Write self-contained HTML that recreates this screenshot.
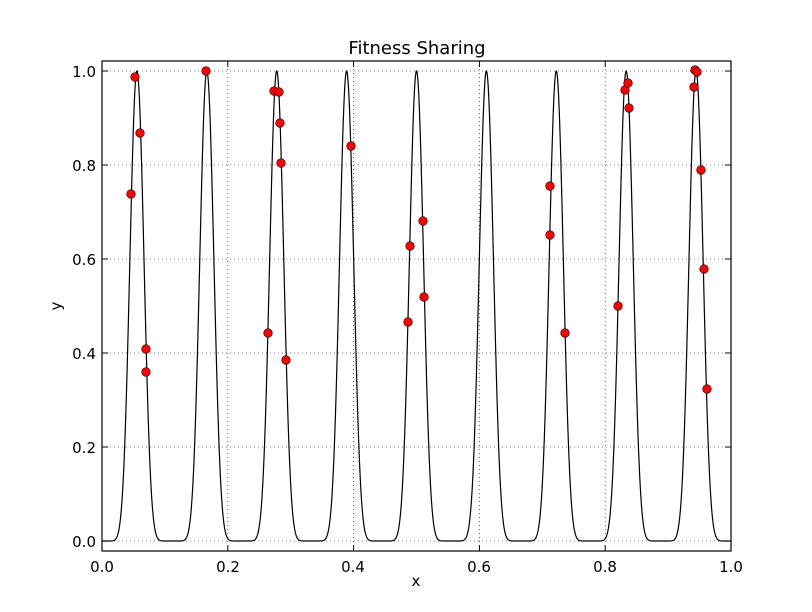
<!DOCTYPE html>
<html><head><meta charset="utf-8"><style>
html,body{margin:0;padding:0;background:#fff;}
svg{display:block;font-family:"DejaVu Sans","Liberation Sans",sans-serif;}
</style></head><body>
<svg id="s" width="812" height="612" viewBox="0 0 812 612" xmlns="http://www.w3.org/2000/svg">
<rect width="812" height="612" fill="#fff"/>
<g id="grid" stroke="#000" stroke-width="0.6" stroke-dasharray="1,3"></g>
<polyline id="curve" fill="none" stroke="#000" stroke-width="1.2"/>
<g id="pts" fill="#ff0000" stroke="#000" stroke-width="0.6"></g>
<rect x="102" y="61" width="629" height="490" fill="none" stroke="#000" stroke-width="1.2"/>
<g id="ticks" stroke="#000" stroke-width="1"></g>
<g font-size="15" fill="#000">
<text x="417" y="54" text-anchor="middle" font-size="18">Fitness Sharing</text>
<text x="416" y="586" text-anchor="middle">x</text>
<text x="61" y="306" text-anchor="middle" transform="rotate(-90 61 306)">y</text>
<g text-anchor="middle">
<text x="102" y="572">0.0</text><text x="228" y="572">0.2</text><text x="353" y="572">0.4</text><text x="479" y="572">0.6</text><text x="605" y="572">0.8</text><text x="731" y="572">1.0</text>
</g>
<g text-anchor="end">
<text x="96" y="547">0.0</text><text x="96" y="453">0.2</text><text x="96" y="359">0.4</text><text x="96" y="265">0.6</text><text x="96" y="171">0.8</text><text x="96" y="77">1.0</text>
</g>
</g>
</svg>
<script>
var X=function(v){return 102+629*v},Y=function(v){return 541-470*v};
var g=document.getElementById('grid'),t=document.getElementById('ticks'),h='',tk='';
for(var i=0;i<=5;i++){var x=X(i*0.2),y=Y(i*0.2);
if(i>0&&i<5)h+='<line x1="'+x+'" y1="61" x2="'+x+'" y2="551"/>';
h+='<line x1="102" y1="'+y+'" x2="731" y2="'+y+'"/>';
tk+='<line x1="'+x+'" y1="551" x2="'+x+'" y2="545"/><line x1="'+x+'" y1="61" x2="'+x+'" y2="67"/>';
tk+='<line x1="102" y1="'+y+'" x2="108" y2="'+y+'"/><line x1="731" y1="'+y+'" x2="725" y2="'+y+'"/>';}
g.innerHTML=h;t.innerHTML=tk;
var p=[];for(var k=0;k<=2000;k++){var v=k/2000;var s=Math.sin(9*Math.PI*v);p.push(X(v).toFixed(2)+','+Y(Math.pow(s*s,5)).toFixed(2));}
document.getElementById('curve').setAttribute('points',p.join(' '));
var pts=[[131,194],[135,77],[140,133],[146,349],[146,372],[206,71],[268,333],[274,91],[279,92],[280,123],[281,163],[286,360],[351,146],[408,322],[410,246],[423,221],[424,297],[550,186],[550,235],[565,333],[618,306],[625,90],[628,83],[629,108],[694,87],[695,70],[697,72],[701,170],[704,269],[707,389]];
var c='';pts.forEach(function(q){c+='<circle cx="'+q[0]+'" cy="'+q[1]+'" r="4.3"/>';});
document.getElementById('pts').innerHTML=c;
</script>
</body></html>
